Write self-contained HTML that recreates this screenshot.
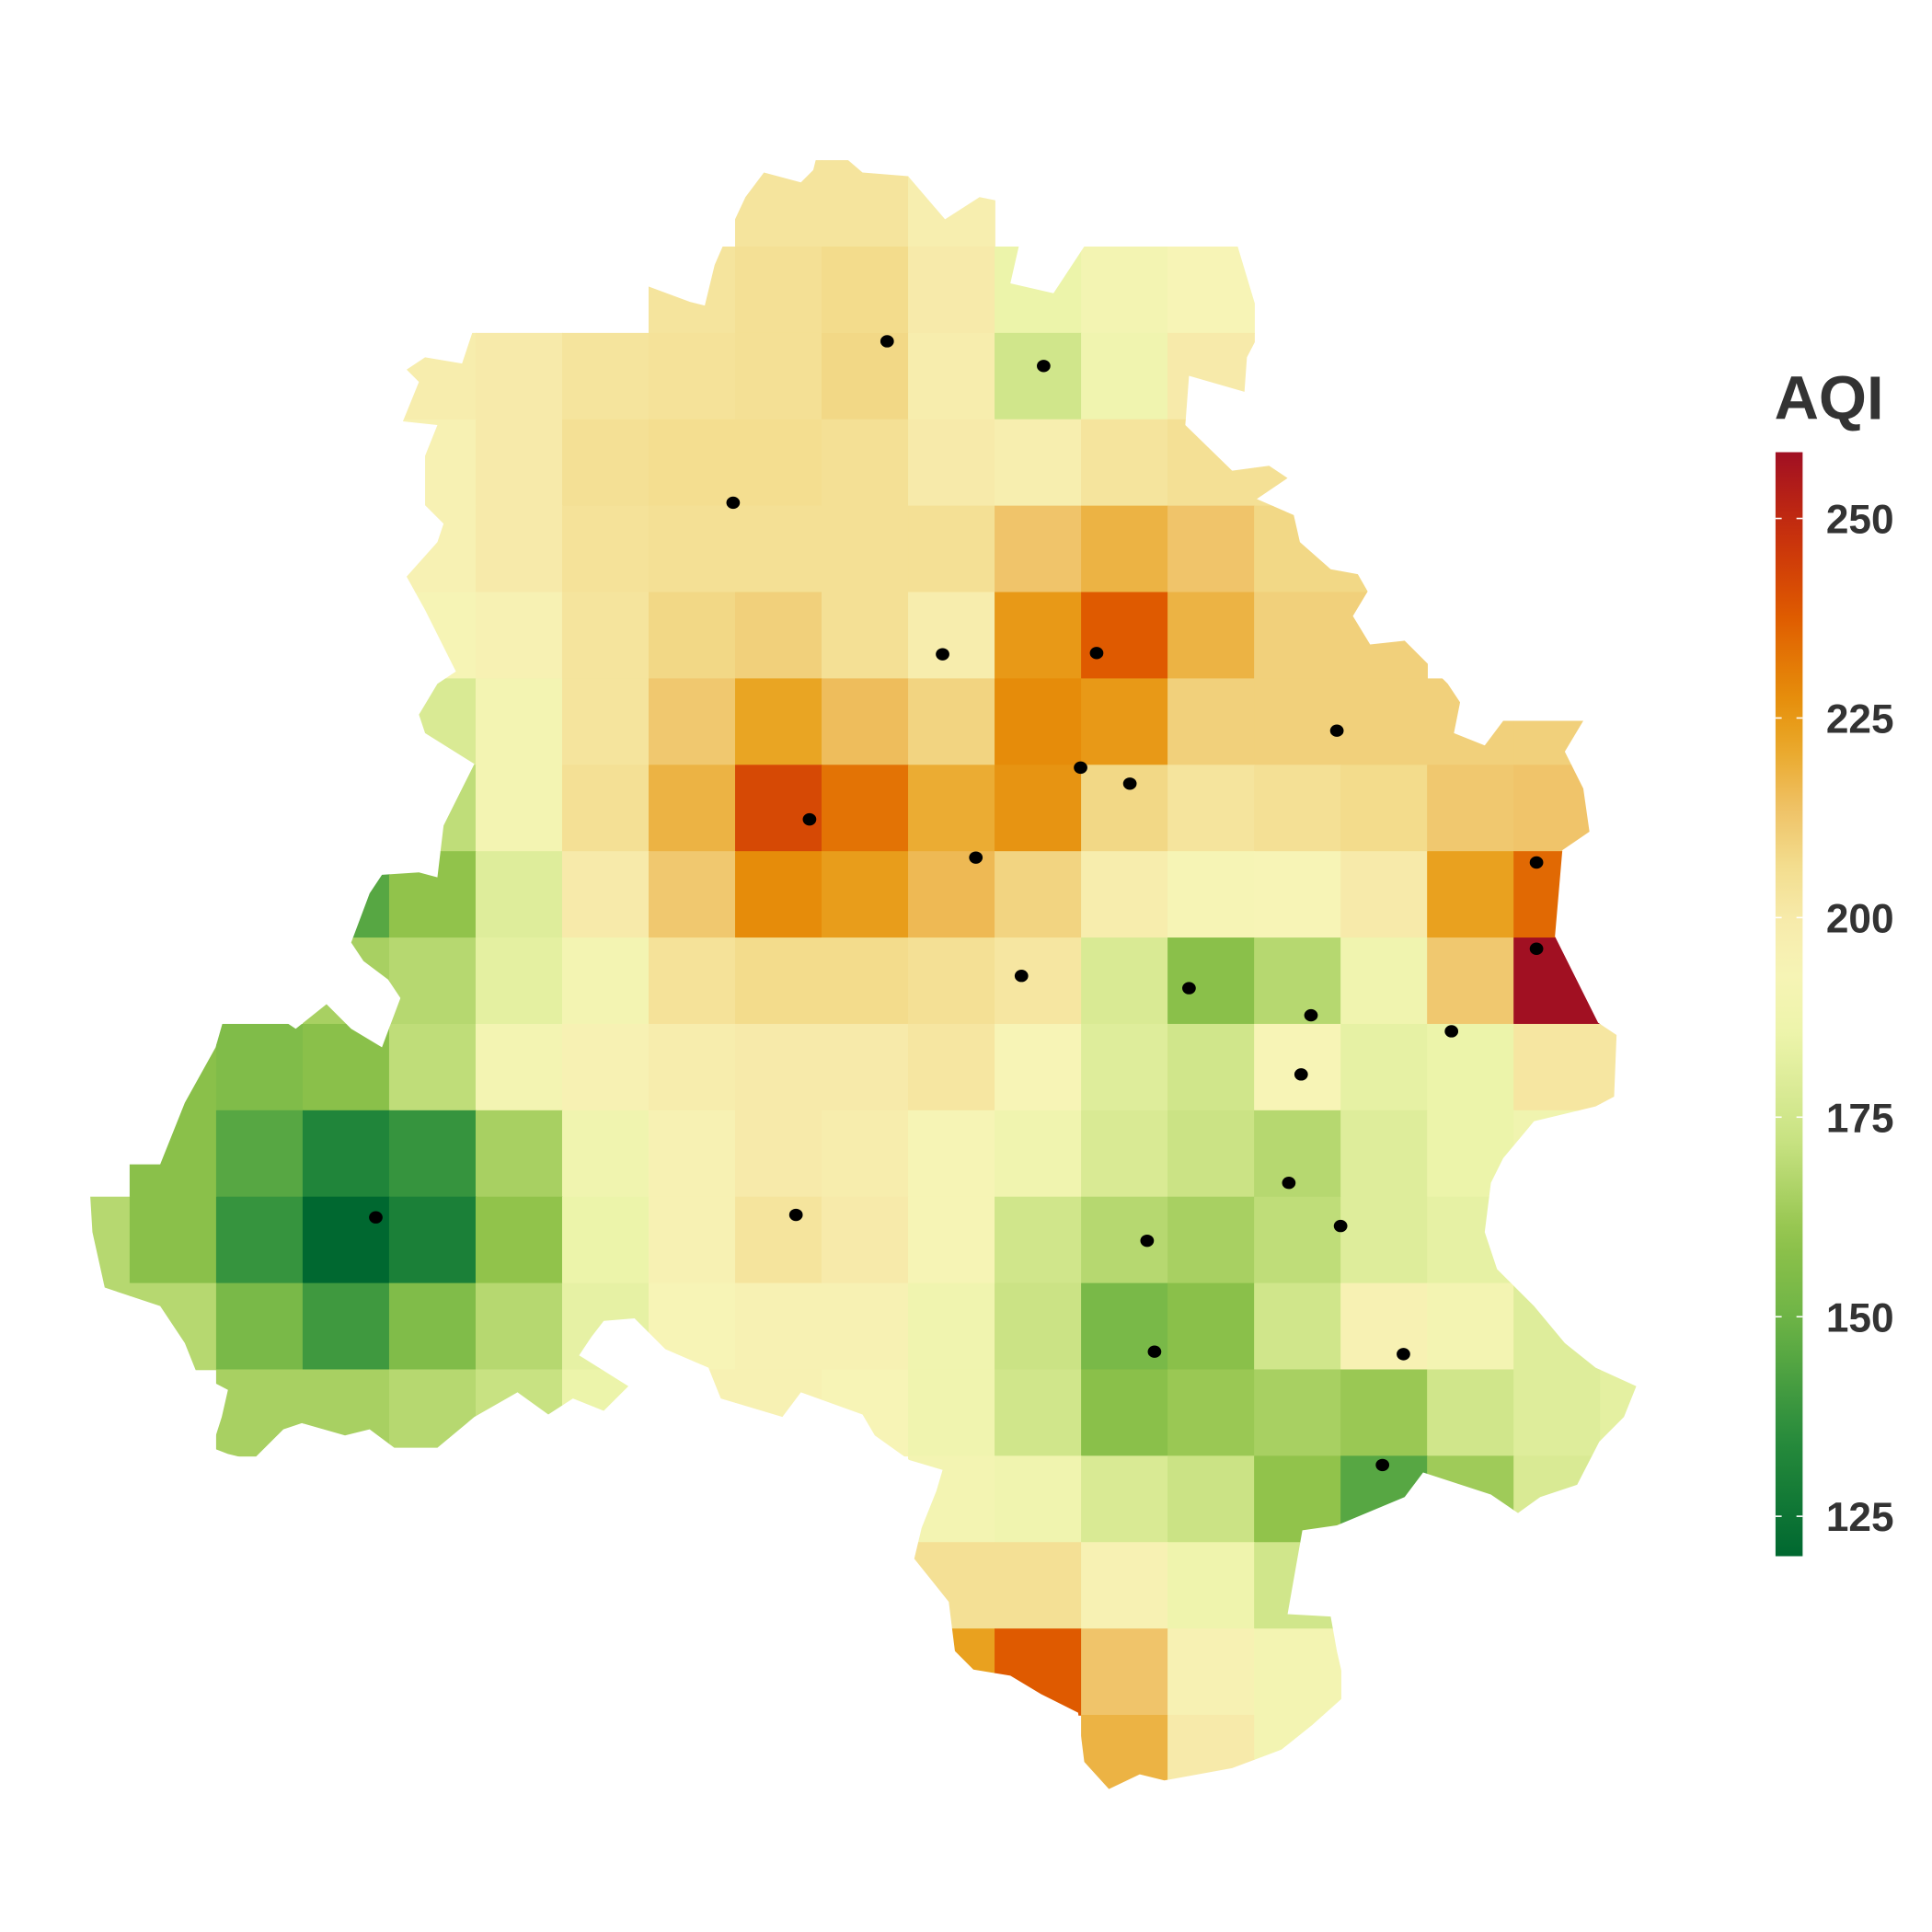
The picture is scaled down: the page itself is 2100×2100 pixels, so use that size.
<!DOCTYPE html>
<html><head><meta charset="utf-8"><style>
html,body{margin:0;padding:0;background:#fff;}
svg{display:block;}
</style></head><body>
<svg id="chart" width="2100" height="2100" viewBox="0 0 1568 1568" xmlns="http://www.w3.org/2000/svg">
<defs>
<clipPath id="delhi"><polygon id="outline" points=""/></clipPath>
<linearGradient id="cbgrad" x1="0" y1="1" x2="0" y2="0"></linearGradient>
</defs>
<g id="cells" clip-path="url(#delhi)"></g>
<g id="stations"></g>
<g id="legend">
<text x="1440" y="340" font-family="Liberation Sans, sans-serif" font-weight="bold" font-size="50" fill="#333">AQI</text>
<rect x="1441" y="367" width="22" height="896" fill="url(#cbgrad)"/>
</g>
</svg>
<script>
// data
const rows = [
/*r0*/ [null,null,null,null,null,null,null,null,203,203,197,null,null,null,null,null,null,null,null],
/*r1*/ [null,null,null,null,null,null,null,203,205,207,200,185,190,193,null,null,null,null,null],
/*r2*/ [null,null,null,null,198,200,203,204,205,208,198,175,188,200,null,null,null,null,null],
/*r3*/ [null,null,null,null,195,200,205,206,206,205,200,197,203,205,205,null,null,null,null],
/*r4*/ [null,null,null,null,195,200,204,205,205,205,205,213,218,213,208,208,null,null,null],
/*r5*/ [null,null,null,null,192,195,203,208,210,205,198,225,238,218,210,210,null,null,null],
/*r6*/ [null,null,null,null,178,190,203,212,222,215,209,228,225,210,210,210,210,210,null],
/*r7*/ [null,null,null,null,170,190,205,218,242,233,220,226,208,203,205,207,212,213,null],
/*r8*/ [null,null,null,145,160,180,200,212,228,224,216,209,198,192,193,200,223,235,null],
/*r9*/ [null,null,null,165,168,182,190,204,207,207,205,202,178,158,168,188,212,258,null],
/*r10*/[null,158,155,158,170,190,195,198,200,200,202,193,180,175,193,183,185,202,202],
/*r11*/[null,158,145,132,138,165,188,195,200,198,192,188,178,173,168,180,185,188,null],
/*r12*/[168,158,138,120,130,160,185,195,203,200,192,175,168,165,170,180,183,183,null],
/*r13*/[168,168,153,140,155,168,183,193,195,195,188,173,153,158,175,195,190,180,null],
/*r14*/[null,null,165,165,168,172,185,195,195,193,188,175,158,162,165,162,175,180,182],
/*r15*/[null,null,null,null,null,null,null,null,null,null,190,188,178,173,160,145,163,178,null],
/*r16*/[null,null,null,null,null,null,null,null,null,null,205,205,195,187,175,null,null,null,null],
/*r17*/[null,null,null,null,null,null,null,null,null,null,223,238,213,195,190,null,null,null,null],
/*r18*/[null,null,null,null,null,null,null,null,null,null,null,null,218,200,190,null,null,null,null]
];
const stationX = [720,847,595,765,890,1085,877,917,657,792,1247,1247,829,965,1064,1178,1056,1046,305,646,1088,931,937,1139,1122];
const stationY = [277,297,408,531,530,593,623,636,665,696,700,770,792,802,824,837,872,960,988,986,995,1007,1097,1099,1189];
const ticks = [125,150,175,200,225,250];
const scaleMin = 120, scaleMax = 258.3;

const NS = "http://www.w3.org/2000/svg";
const gx0 = 35, cw = 70.2, gy0 = 130, ch = 70.1;
const barTop = 367, barBot = 1263;
function yBar(v){ return barBot - (v - scaleMin)/(scaleMax - scaleMin)*(barBot - barTop); }

const stops = [[120,[0,104,48]],[135,[40,140,60]],[150,[110,180,70]],[160,[145,195,75]],[172,[200,226,130]],[185,[236,244,170]],[193,[247,244,182]],[200,[247,234,170]],[207,[243,220,140]],[214,[239,192,100]],[222,[233,165,35]],[228,[230,140,10]],[238,[223,90,0]],[246,[205,55,10]],[252,[185,35,20]],[258.3,[160,15,35]]];
function color(v){
  if(v<=stops[0][0]) return rgb(stops[0][1]);
  for(let i=1;i<stops.length;i++){
    if(v<=stops[i][0]){
      const a=stops[i-1],b=stops[i],t=(v-a[0])/(b[0]-a[0]);
      return rgb(a[1].map((c,k)=>c+(b[1][k]-c)*t));
    }
  }
  return rgb(stops[stops.length-1][1]);
}
function rgb(c){return "rgb("+c.map(x=>Math.round(x)).join(",")+")";}

const outlinePts = [[673,103],[686,110],[686,128],[700,140],[737,143],[767,178],[795,160],[820,165],[828,195],[820,230],[855,238],[880,200],[895,180],[965,178],[1000,185],[1018,245],[1025,265],[1012,290],[1010,318],[965,305],[962,345],[1000,382],[1030,378],[1045,388],[1020,405],[1050,418],[1055,440],[1080,462],[1102,466],[1110,480],[1098,500],[1112,523],[1140,520],[1175,555],[1185,570],[1180,595],[1205,605],[1220,585],[1285,585],[1270,610],[1285,640],[1290,675],[1268,690],[1262,760],[1297,830],[1312,840],[1310,890],[1295,898],[1245,910],[1220,940],[1210,960],[1205,1000],[1215,1030],[1245,1060],[1270,1090],[1295,1110],[1328,1125],[1318,1150],[1298,1170],[1280,1205],[1250,1215],[1232,1228],[1210,1213],[1155,1195],[1140,1215],[1085,1238],[1057,1242],[1045,1310],[1080,1312],[1085,1340],[1093,1375],[1065,1400],[1040,1420],[1000,1435],[945,1445],[925,1440],[900,1452],[880,1430],[875,1390],[845,1375],[820,1360],[790,1355],[775,1340],[770,1300],[742,1265],[748,1240],[760,1210],[765,1193],[738,1185],[710,1165],[700,1148],[650,1130],[635,1150],[585,1135],[575,1110],[540,1095],[515,1070],[490,1072],[480,1085],[470,1100],[510,1125],[490,1145],[465,1135],[445,1148],[420,1130],[385,1150],[355,1175],[320,1175],[300,1160],[280,1165],[245,1155],[230,1160],[205,1185],[185,1180],[172,1175],[180,1150],[185,1128],[160,1115],[150,1090],[130,1060],[100,1050],[85,1045],[75,1000],[72,950],[100,945],[130,945],[150,895],[175,850],[185,815],[210,815],[240,835],[265,815],[285,835],[310,850],[325,810],[315,795],[295,780],[285,765],[300,725],[310,710],[340,708],[355,712],[360,670],[375,640],[385,620],[345,595],[340,580],[355,555],[370,545],[355,515],[345,495],[330,468],[355,440],[360,425],[345,410],[345,370],[355,345],[327,342],[340,310],[330,300],[345,290],[375,295],[385,265],[395,262],[415,270],[435,240],[460,228],[525,232],[560,245],[572,248],[580,215],[590,192],[605,160],[620,140],[650,148],[660,138],[665,118]];
document.getElementById('outline').setAttribute('points', outlinePts.map(p=>p.join(',')).join(' '));

const cells = document.getElementById('cells');
rows.forEach((row,r)=>row.forEach((v,c)=>{
  if(v===null) return;
  const rect = document.createElementNS(NS,'rect');
  rect.setAttribute('x', gx0 + c*cw);
  rect.setAttribute('y', gy0 + r*ch);
  rect.setAttribute('width', cw+0.6);
  rect.setAttribute('height', ch+0.6);
  rect.setAttribute('fill', color(v));
  
  
  cells.appendChild(rect);
}));

const st = document.getElementById('stations');
stationX.forEach((x,i)=>{
  const d = document.createElementNS(NS,'ellipse');
  d.setAttribute('cx', x); d.setAttribute('cy', stationY[i]);
  d.setAttribute('rx', 5.5); d.setAttribute('ry', 5);
  d.setAttribute('fill', '#000');
  
  
  st.appendChild(d);
});

const grad = document.getElementById('cbgrad');
for(let i=0;i<=40;i++){
  const v = scaleMin + (scaleMax-scaleMin)*i/40;
  const s = document.createElementNS(NS,'stop');
  s.setAttribute('offset', (i/40*100)+'%');
  s.setAttribute('stop-color', color(v));
  grad.appendChild(s);
}
const lg = document.getElementById('legend');
ticks.forEach(t=>{
  const y = yBar(t);
  [[1441,1446],[1458,1463]].forEach(([a,b])=>{
    const l = document.createElementNS(NS,'line');
    l.setAttribute('x1',a); l.setAttribute('x2',b); l.setAttribute('y1',y); l.setAttribute('y2',y);
    l.setAttribute('stroke','#fff'); l.setAttribute('stroke-width','1.2');
    
    
    lg.appendChild(l);
  });
  const tx = document.createElementNS(NS,'text');
  tx.setAttribute('x', 1482); tx.setAttribute('y', y+12);
  tx.setAttribute('font-family','Liberation Sans, sans-serif');
  tx.setAttribute('font-weight','bold'); tx.setAttribute('font-size','33');
  tx.setAttribute('fill','#333');
  tx.textContent = t;
  
  
  lg.appendChild(tx);
});
</script>
</body></html>
